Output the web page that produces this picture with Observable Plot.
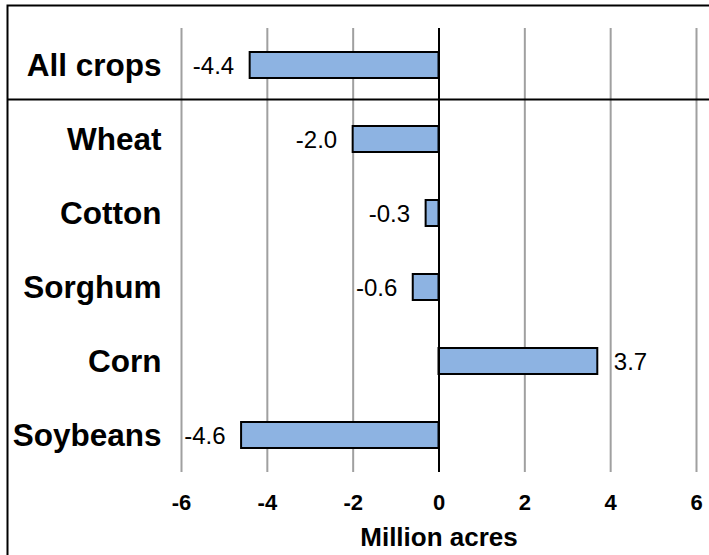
<!DOCTYPE html>
<html>
<head>
<meta charset="utf-8">
<script src="https://cdn.jsdelivr.net/npm/d3@7"></script>
<script src="https://cdn.jsdelivr.net/npm/@observablehq/plot@0.6"></script>
<style>
  html, body { margin: 0; padding: 0; background: #fff; }
  #chart svg { display: block; }
</style>
</head>
<body>
<div id="chart"></div>
<script>
const crops = ["All crops", "Wheat", "Cotton", "Sorghum", "Corn", "Soybeans"];
const changes = [-4.4, -2.0, -0.3, -0.6, 3.7, -4.6];
const xTicks = [-6, -4, -2, 0, 2, 4, 6];
const axisTitle = "Million acres";

const data = crops.map((crop, i) => ({crop, value: changes[i]}));
const font = "'Liberation Sans', Arial, Helvetica, sans-serif";

const chart = Plot.plot({
  width: 709,
  height: 555,
  marginLeft: 181,
  marginRight: 13,
  marginTop: 28,
  marginBottom: 83,
  style: {fontFamily: font, color: "#000", background: "#fff"},
  x: {domain: [-6, 6], ticks: xTicks},
  y: {domain: crops, paddingInner: 0.65, paddingOuter: 0.325},
  marks: [
    Plot.frame({stroke: "#000", strokeWidth: 2, insetLeft: -174, insetTop: -23, insetRight: -20, insetBottom: -84}),
    Plot.ruleX(xTicks, {stroke: "#a0a0a0", strokeWidth: 2}),
    Plot.ruleY([crops[0]], {y: d => d, dy: 34, stroke: "#000", strokeWidth: 2, insetLeft: -174, insetRight: -20}),
    Plot.barX(data, {y: "crop", x: "value", fill: "#8db3e2", stroke: "#000", strokeWidth: 2}),
    Plot.ruleX([0], {stroke: "#000", strokeWidth: 2}),
    Plot.text(data.filter(d => d.value < 0), {y: "crop", x: "value", text: d => d.value.toFixed(1), textAnchor: "end", dx: -16, dy: 1, fontSize: 24, fill: "#000"}),
    Plot.text(data.filter(d => d.value >= 0), {y: "crop", x: "value", text: d => d.value.toFixed(1), textAnchor: "start", dx: 16, dy: 1, fontSize: 24, fill: "#000"}),
    Plot.axisY({tickSize: 0, tickPadding: 20, fontSize: 31.5, fontWeight: "bold", label: null}),
    Plot.axisX({ticks: xTicks, tickFormat: d => String(d), tickSize: 0, tickPadding: 22, fontSize: 22, fontWeight: "bold", label: null}),
    Plot.text([axisTitle], {frameAnchor: "bottom", dy: 73, text: d => d, fontSize: 26, fontWeight: "bold", fill: "#000"})
  ]
});
document.getElementById("chart").appendChild(chart);
</script>
</body>
</html>
